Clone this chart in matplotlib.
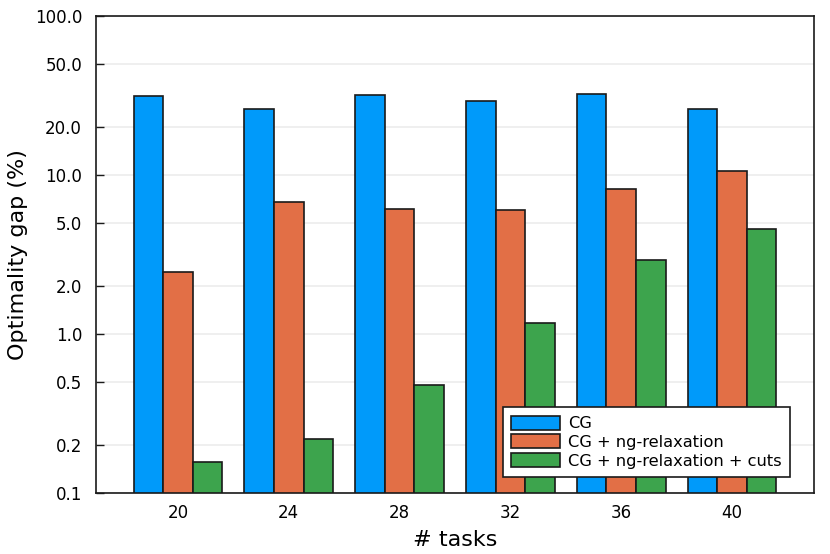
import numpy as np
import matplotlib.pyplot as plt
from matplotlib.ticker import FixedLocator, NullLocator

# data
tasks = ['20', '24', '28', '32', '36', '40']
gap_cg = [31.5, 26.0, 32.0, 29.2, 32.3, 26.1]
gap_ng = [2.45, 6.76, 6.1, 6.0, 8.2, 10.55]
gap_cuts = [0.157, 0.219, 0.478, 1.18, 2.92, 4.57]
series_names = ['CG', 'CG + ng-relaxation', 'CG + ng-relaxation + cuts']
colors = ['#009AFA', '#E26F46', '#3DA44D']

yticks = [0.1, 0.2, 0.5, 1.0, 2.0, 5.0, 10.0, 20.0, 50.0, 100.0]
ybase = 0.1

fig = plt.figure(figsize=(8.3, 5.54), dpi=100)
ax = fig.add_axes([96/830, 1 - 493/554, (814-96)/830, (493-16)/554])

x = np.arange(len(tasks))
w = 0.8 / 3
for i, vals in enumerate([gap_cg, gap_ng, gap_cuts]):
    heights = np.array(vals) - ybase   # bars start at the axis floor
    ax.bar(x + (i - 1) * w, heights, width=w, bottom=ybase, color=colors[i],
           edgecolor='#1a1a1a', linewidth=1.2, label=series_names[i], zorder=3)

ax.set_yscale('log')
ax.set_ylim(0.1, 100)
ax.yaxis.set_major_locator(FixedLocator(yticks))
ax.yaxis.set_minor_locator(NullLocator())
ax.set_yticklabels([f'{t:.1f}' for t in yticks])
ax.set_xlim(-0.74, len(tasks) - 1 + 0.74)
ax.set_xticks(x)
ax.set_xticklabels(tasks)

ax.grid(True, axis='y', color='#ececec', linewidth=1.2, zorder=0)
ax.tick_params(axis='both', direction='in', length=6, width=1, labelsize=12, color='#1a1a1a')
ax.tick_params(axis='x', length=0, pad=8)
ax.tick_params(axis='y', pad=10)
for s in ax.spines.values():
    s.set_linewidth(1.2)
    s.set_color('#1a1a1a')

ax.set_xlabel('# tasks', fontsize=16, labelpad=6)
ax.set_ylabel('Optimality gap (%)', fontsize=16, labelpad=5)

leg = ax.legend(loc='lower right', bbox_to_anchor=(1 - 24/718, 16/477), fontsize=11.7,
                frameon=True, fancybox=False, edgecolor='#1a1a1a', framealpha=1,
                borderaxespad=0, handlelength=3.0, handleheight=0.95,
                labelspacing=0.2, handletextpad=0.5, borderpad=0.5)
leg.get_frame().set_linewidth(1.2)

fig.savefig('out.png', dpi=100)
